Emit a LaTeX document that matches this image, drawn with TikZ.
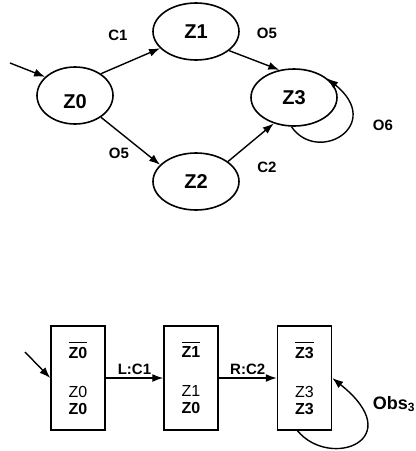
\documentclass[tikz,border=0pt]{standalone}
\usepackage{fontspec}
\setmainfont{Liberation Sans}
\usepackage{xcolor}
\usetikzlibrary{shapes.geometric,arrows.meta,positioning}

\tikzset{
    zstate/.style={draw, ellipse, line width=1.6pt, minimum width=86pt, minimum height=57pt,
        inner sep=0pt, font=\fontsize{20}{22}\selectfont\bfseries},
    edgelbl/.style={font=\fontsize{15}{17}\selectfont\bfseries},
    obsbox/.style={draw, rectangle, line width=1.5pt, minimum width=54pt, minimum height=104pt,
        inner sep=0pt, align=center, text depth=-8pt, font=\fontsize{16}{17}\selectfont\bfseries},
    trans/.style={-{Latex[length=11pt,width=8pt]}, line width=1.4pt}
}

\newcommand{\zbar}[1]{\vbox{\hrule height 1.4pt\kern 3.5pt\hbox{#1}}}

\begin{document}
\begin{tikzpicture}[x=1pt,y=-1pt]
    \useasboundingbox (0,0) rectangle (416,451);

    % automate
    \node[zstate, minimum width=76pt, text height=27pt] (z0) at (75,95.5) {Z0};
    \node[zstate] (z1) at (196,31.5) {Z1};
    \node[zstate] (z2) at (196,181.5) {Z2};
    \node[zstate] (z3) at (294,97.5) {Z3};
    \coordinate (start0) at (10,63);

    \draw[trans] (start0) -- (z0.148);
    \draw[trans] (z0.40) -- (z1.205);
    \draw[trans] (z0.-40) -- (z2.155);
    \draw[trans] (z1.-30) -- (z3.118);
    \draw[trans] (z2.32) -- (z3.-128);
    \draw[trans] (z3.-95) .. controls (318,165) and (385,125) .. (z3.30);

    \node[edgelbl] (c1) at (118,35) {C1};
    \node[edgelbl] (o5a) at (267,33) {O5};
    \node[edgelbl] (o5b) at (119,153) {O5};
    \node[edgelbl] (c2) at (267,167) {C2};
    \node[edgelbl] (o6) at (383,125) {O6};

    % observateur
    \node[obsbox] (b0) at (78,378) {\zbar{Z0}\\[22pt]{\mdseries Z0}\\Z0};
    \node[obsbox] (b1) at (191,378) {\zbar{Z1}\\[22pt]{\mdseries Z1}\\Z0};
    \node[obsbox] (b2) at (304.5,378) {\zbar{Z3}\\[22pt]{\mdseries Z3}\\Z3};
    \coordinate (start1) at (25,352);

    \draw[trans] (start1) -- (b0.west);
    \draw[trans] (b0.east) -- node[edgelbl, above=-1pt] (l1) {L:C1} (b1.west);
    \draw[trans] (b1.east) -- node[edgelbl, above=-1pt] (l2) {R:C2} (b2.west);
    \draw[trans] ([xshift=-7pt]b2.south) .. controls (330,470) and (410,440) .. (b2.east);

    \node[font=\fontsize{18}{20}\selectfont\bfseries] (obs) at (394,404) {Obs$_{\mbox{\fontsize{12}{12}\selectfont 3}}$};
\end{tikzpicture}
\end{document}
